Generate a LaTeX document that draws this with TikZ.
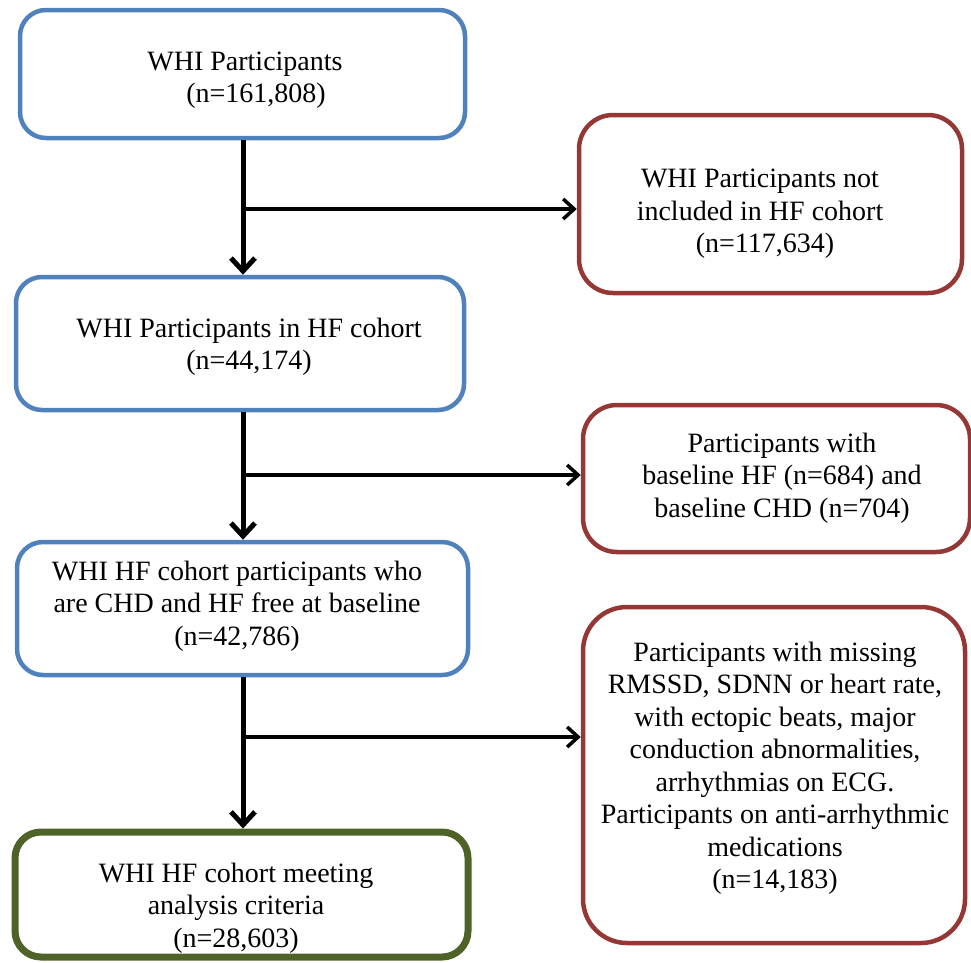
\documentclass[tikz,border=0pt]{standalone}
\usepackage{fontspec}
\setmainfont{Liberation Serif}
\usetikzlibrary{arrows.meta}
\definecolor{boxblue}{HTML}{4F81BD}
\definecolor{boxred}{HTML}{953735}
\definecolor{boxgreen}{HTML}{4F6228}
\tikzset{
  bluebox/.style={draw=boxblue, line width=4.5pt, rounded corners=26pt, inner sep=0pt},
  redbox/.style={draw=boxred, line width=4.5pt, rounded corners=34pt, inner sep=0pt},
  greenbox/.style={draw=boxgreen, line width=7pt, rounded corners=26pt, inner sep=0pt},
  txt/.style={align=center, inner sep=0pt, font=\fontsize{28}{32.5}\selectfont},
  mainarrow/.style={line width=5pt, -{Straight Barb[length=13pt, width=24pt]}},
  sidearrow/.style={line width=3.5pt, -{Straight Barb[length=11pt, width=20pt]}},
}
\begin{document}
\begin{tikzpicture}[x=1pt, y=-1pt]
\useasboundingbox (0,0) rectangle (971,962);
% left column boxes
\node[bluebox, minimum width=445pt, minimum height=128pt] (b1) at (242.5,74) {};
\node[bluebox, minimum width=448pt, minimum height=133pt] (b3) at (240,343.5) {};
\node[bluebox, minimum width=451pt, minimum height=133pt] (b5) at (242.5,608.5) {};
\node[greenbox, minimum width=453pt, minimum height=125pt] (b7) at (241.5,894.5) {};
% right column boxes
\node[redbox, minimum width=383pt, minimum height=178pt] (b2) at (770.5,204) {};
\node[redbox, minimum width=387pt, minimum height=147pt] (b4) at (776.5,478.5) {};
\node[redbox, minimum width=382pt, minimum height=336pt, rounded corners=44pt] (b6) at (774,775) {};
% texts
\node[txt] (t1) at (245,80) {WHI Participants\\\hspace*{22pt}(n=161,808)};
\node[txt] (t3) at (249,347) {WHI Participants in HF cohort\\(n=44,174)};
\node[txt] (t5) at (237,606) {WHI HF cohort participants who\\are CHD and HF free at baseline\\(n=42,786)};
\node[txt] (t7) at (236,908) {WHI HF cohort meeting\\analysis criteria\\(n=28,603)};
\node[txt] (t2) at (760,214) {WHI Participants not\\included in HF cohort\\\hspace*{10pt}(n=117,634)};
\node[txt] (t4) at (782,478) {Participants with\\baseline HF (n=684) and\\baseline CHD (n=704)};
\node[txt] (t6) at (775,768) {Participants with missing\\RMSSD, SDNN or heart rate,\\with ectopic beats, major\\conduction abnormalities,\\arrhythmias on ECG.\\Participants on anti-arrhythmic\\medications\\(n=14,183)};
% junctions
\coordinate (j1) at (243,209);
\coordinate (j2) at (243,475);
\coordinate (j3) at (243,737);
% main flow
\draw[mainarrow] (b1.south -| j1) -- (b3.north -| j1);
\draw[mainarrow] (b3.south -| j2) -- (b5.north -| j2);
\draw[mainarrow] (b5.south -| j3) -- (b7.north -| j3);
% exclusions
\draw[sidearrow] (j1) -- (j1 -| b2.west);
\draw[sidearrow] (j2) -- (j2 -| b4.west);
\draw[sidearrow] (j3) -- (j3 -| b6.west);
\end{tikzpicture}
\end{document}
